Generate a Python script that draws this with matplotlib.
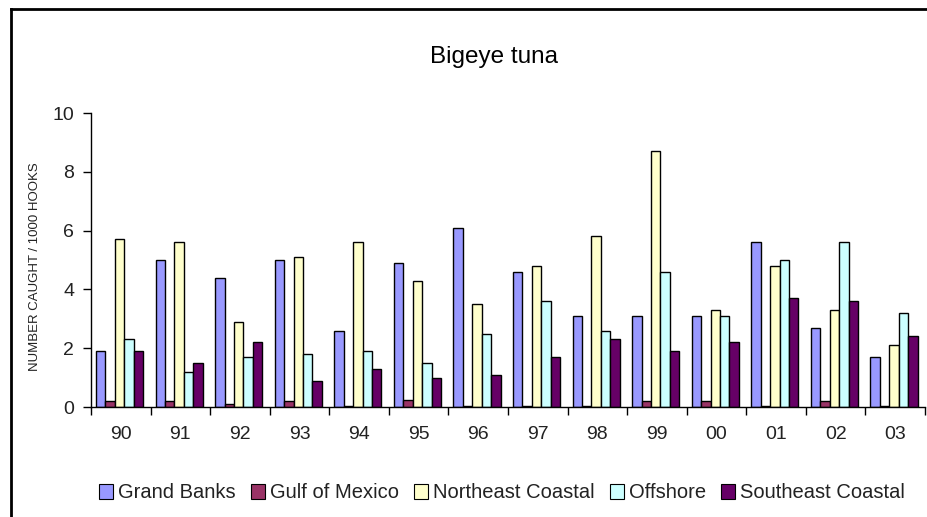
import numpy as np
import matplotlib.pyplot as plt
from matplotlib.lines import Line2D

plt.rcParams['font.family'] = ['Liberation Sans', 'DejaVu Sans']

years = ['90', '91', '92', '93', '94', '95', '96', '97', '98', '99', '00', '01', '02', '03']
series_names = ['Grand Banks', 'Gulf of Mexico', 'Northeast Coastal', 'Offshore', 'Southeast Coastal']
grand_banks = [1.9, 5.0, 4.4, 5.0, 2.6, 4.9, 6.1, 4.6, 3.1, 3.1, 3.1, 5.6, 2.7, 1.7]
gulf_of_mexico = [0.2, 0.2, 0.1, 0.2, 0.05, 0.25, 0.05, 0.05, 0.05, 0.2, 0.2, 0.05, 0.2, 0.05]
northeast_coastal = [5.7, 5.6, 2.9, 5.1, 5.6, 4.3, 3.5, 4.8, 5.8, 8.7, 3.3, 4.8, 3.3, 2.1]
offshore = [2.3, 1.2, 1.7, 1.8, 1.9, 1.5, 2.5, 3.6, 2.6, 4.6, 3.1, 5.0, 5.6, 3.2]
southeast_coastal = [1.9, 1.5, 2.2, 0.9, 1.3, 1.0, 1.1, 1.7, 2.3, 1.9, 2.2, 3.7, 3.6, 2.4]
colors = ['#9999FF', '#993366', '#FFFFCC', '#CCFFFF', '#660066']

values = [grand_banks, gulf_of_mexico, northeast_coastal, offshore, southeast_coastal]

fig = plt.figure(figsize=(9.28, 5.17), dpi=100)
ax = fig.add_axes([91 / 928, 1 - 407 / 517, 834 / 928, 294 / 517])

x = np.arange(len(years))
w = 0.158
for i, (vals, c) in enumerate(zip(values, colors)):
    ax.bar(x + (i - 2) * w - 0.02, vals, width=w, color=c, edgecolor='black', linewidth=1.0)

ax.set_xlim(-0.5, len(years) - 0.5)
ax.set_ylim(0, 10)
ax.set_yticks([0, 2, 4, 6, 8, 10])
ax.set_xticks(x)
ax.set_xticklabels(years, fontsize=14, color='#222222')
ax.set_xticks(np.arange(len(years) + 1) - 0.5, minor=True)
ax.tick_params(axis='x', which='major', length=0, pad=14)
ax.tick_params(axis='x', which='minor', length=6, width=1)
ax.tick_params(axis='y', length=6, width=1, labelsize=14, labelcolor='#222222', pad=6)
for s in ['top', 'right']:
    ax.spines[s].set_visible(False)
ax.spines['left'].set_linewidth(1)
ax.spines['bottom'].set_linewidth(1)

fig.text(35 / 928, 1 - 267 / 517, 'NUMBER CAUGHT / 1000 HOOKS', rotation=90,
         fontsize=9.5, ha='center', va='center', color='#222222')
fig.text(494 / 928, 1 - 57 / 517, 'Bigeye tuna', fontsize=17.5, ha='center', va='center')

handles = [plt.Rectangle((0, 0), 1, 1, facecolor=c, edgecolor='black', linewidth=0.8) for c in colors]
fig.legend(handles, series_names, loc='center', bbox_to_anchor=(502 / 928, 1 - 493 / 517),
           ncol=5, frameon=False, fontsize=14.5, handlelength=0.7, handleheight=0.7,
           handletextpad=0.25, columnspacing=0.75, labelcolor='#222222')

# outer chart border (left and top)
fig.add_artist(Line2D([11 / 928, 11 / 928], [0, 1 - 9 / 517], color='black', lw=2, transform=fig.transFigure))
fig.add_artist(Line2D([11 / 928, 1], [1 - 9 / 517, 1 - 9 / 517], color='black', lw=2, transform=fig.transFigure))

fig.savefig('out.png', dpi=100)
